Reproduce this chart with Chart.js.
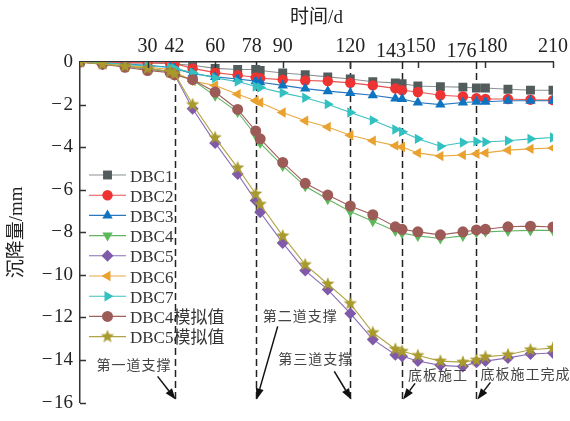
<!DOCTYPE html>
<html>
<head>
<meta charset="utf-8">
<script src="https://cdn.jsdelivr.net/npm/chart.js@4.4.0/dist/chart.umd.min.js"></script>
<style>
html, body { margin: 0; padding: 0; background: #fff; }
</style>
</head>
<body>
<canvas id="myChart" width="570" height="421"></canvas>
<script>
// Data (days, settlement in mm)
const days = [0, 10, 20, 30, 40, 42, 50, 60, 70, 78, 80, 90, 100, 110, 120, 130, 140, 143, 150, 160, 170, 176, 180, 190, 200, 210];

const dbc1 = [0, -0.02, -0.04, -0.05, -0.08, -0.1, -0.15, -0.3, -0.35, -0.35, -0.4, -0.52, -0.6, -0.7, -0.8, -0.93, -0.98, -1.02, -1.13, -1.16, -1.18, -1.22, -1.22, -1.28, -1.32, -1.33];
const dbc2 = [0, 0, -0.03, -0.04, -0.05, -0.07, -0.3, -0.5, -0.62, -0.72, -0.76, -0.83, -0.87, -0.9, -0.98, -1.1, -1.24, -1.33, -1.41, -1.56, -1.62, -1.7, -1.74, -1.74, -1.77, -1.79];
const dbc3 = [0, -0.05, -0.1, -0.15, -0.25, -0.3, -0.55, -0.7, -0.8, -0.9, -0.95, -1.1, -1.25, -1.37, -1.46, -1.56, -1.71, -1.74, -1.9, -2.0, -1.9, -1.87, -1.87, -1.82, -1.82, -1.82];
const dbc4 = [0, -0.1, -0.2, -0.35, -0.45, -0.55, -0.85, -1.59, -2.35, -3.45, -3.81, -4.88, -5.84, -6.45, -7.02, -7.48, -7.94, -8.04, -8.17, -8.29, -8.17, -8.01, -7.98, -7.94, -7.91, -7.91];
const dbc5 = [0, -0.1, -0.2, -0.3, -0.45, -0.6, -2.2, -3.8, -5.26, -6.51, -7.06, -8.5, -9.8, -10.69, -11.81, -13.03, -13.75, -13.82, -14.05, -14.25, -14.31, -14.1, -14.05, -13.9, -13.72, -13.67];
const dbc6 = [0, -0.1, -0.15, -0.25, -0.35, -0.45, -0.9, -1.1, -1.51, -1.82, -1.9, -2.37, -2.76, -3.05, -3.44, -3.7, -3.93, -3.99, -4.27, -4.42, -4.37, -4.31, -4.27, -4.14, -4.08, -4.04];
const dbc7 = [0, -0.05, -0.1, -0.2, -0.25, -0.3, -0.5, -0.75, -0.92, -1.15, -1.2, -1.45, -1.68, -1.98, -2.37, -2.74, -3.17, -3.28, -3.61, -3.96, -3.78, -3.73, -3.76, -3.7, -3.61, -3.55];
const dbc4Sim = [0, -0.1, -0.25, -0.4, -0.5, -0.6, -0.83, -1.41, -2.23, -3.24, -3.61, -4.72, -5.7, -6.25, -6.76, -7.17, -7.74, -7.86, -7.98, -8.12, -7.98, -7.89, -7.86, -7.74, -7.71, -7.75];
const dbc5Sim = [0, -0.1, -0.2, -0.3, -0.45, -0.55, -2.0, -3.55, -4.97, -6.2, -6.68, -8.17, -9.52, -10.43, -11.35, -12.71, -13.49, -13.59, -13.79, -14.05, -14.1, -14.0, -13.85, -13.75, -13.52, -13.44];

const xTickLabels = [30, 42, 60, 78, 90, 120, 143, 150, 176, 180, 210];
const xMajorTicks = [30, 60, 90, 120, 150, 180, 210];
const stageDays = [42, 78, 120, 143, 176];
const stageNames = ['第一道支撑', '第二道支撑', '第三道支撑', '底板施工', '底板施工完成'];

const serif = "'Liberation Serif', 'Noto Sans CJK SC'";
const cjk = "'Noto Sans CJK SC'";

// a filled five-point star for the simulated DBC5 series
function makeStar(color, r) {
    let c = document.createElement('canvas');
    c.width = c.height = Math.ceil(r * 2 + 2);
    let g = c.getContext('2d');
    g.fillStyle = color;
    g.beginPath();
    for (let i = 0; i < 10; i++) {
        let rr = i % 2 === 0 ? r : r * 0.42;
        let a = -Math.PI / 2 + i * Math.PI / 5;
        g.lineTo(c.width / 2 + rr * Math.cos(a), c.height / 2 + rr * Math.sin(a));
    }
    g.closePath();
    g.fill();
    return c;
}

// look of each series
const series = [
    { label: 'DBC1', values: dbc1, marker: '#535c5c', line: '#8c9191', style: 'rect', rot: 0, r: 6.3 },
    { label: 'DBC2', values: dbc2, marker: '#ee3333', line: '#e85050', style: 'circle', rot: 0, r: 5.2 },
    { label: 'DBC3', values: dbc3, marker: '#0f74c0', line: '#2a78bf', style: 'triangle', rot: 0, r: 6 },
    { label: 'DBC4', values: dbc4, marker: '#5cb85c', line: '#62b462', style: 'triangle', rot: 180, r: 6 },
    { label: 'DBC5', values: dbc5, marker: '#7f5aaa', line: '#8a6cb8', style: 'rectRot', rot: 0, r: 6 },
    { label: 'DBC6', values: dbc6, marker: '#e9a22f', line: '#e8a840', style: 'triangle', rot: 270, r: 6 },
    { label: 'DBC7', values: dbc7, marker: '#33c0c0', line: '#3cc0c0', style: 'triangle', rot: 90, r: 6 },
    { label: 'DBC4模拟值', values: dbc4Sim, marker: '#9c5b57', line: '#a0605c', style: 'circle', rot: 0, r: 5.5 },
    { label: 'DBC5模拟值', values: dbc5Sim, marker: '#a89a2c', line: '#b0a444', style: makeStar('#a89a2c', 7), rot: 0, r: 7 }
];

const datasets = series.map(function (s, i) {
    return {
        label: s.label,
        data: days.map(function (d, k) { return { x: d, y: s.values[k] }; }),
        borderColor: s.line,
        backgroundColor: s.marker,
        pointBackgroundColor: s.marker,
        pointBorderColor: s.marker,
        pointBorderWidth: 0,
        pointStyle: s.style,
        pointRotation: s.rot,
        pointRadius: s.r,
        borderWidth: 1.1,
        tension: 0,
        order: series.length - i
    };
});

// where the stage notes sit, relative to the arrow tip at each stage line
const notePlace = [
    { tx: -78, ty: -35, ax: -17, ay: -23 },
    { tx: 7, ty: -84, ax: 22, ay: -73 },
    { tx: -72, ty: -41, ax: -16, ay: -28 },
    { tx: 6, ty: -25, ax: 13, ay: -16 },
    { tx: 4, ty: -26, ax: 14, ay: -17 }
];
const labelShift = { 78: [-4, 0], 143: [-11, 5], 150: [3, 0], 176: [-15, 5], 180: [7, 0] };

function arrow(ctx, x1, y1, x2, y2) {
    let a = Math.atan2(y2 - y1, x2 - x1);
    let L = 11, W = 4;
    let bx = x2 - L * Math.cos(a), by = y2 - L * Math.sin(a);
    ctx.beginPath();
    ctx.moveTo(x1, y1);
    ctx.lineTo(bx, by);
    ctx.stroke();
    ctx.beginPath();
    ctx.moveTo(x2, y2);
    ctx.lineTo(bx + W * Math.sin(a), by - W * Math.cos(a));
    ctx.lineTo(bx - W * Math.sin(a), by + W * Math.cos(a));
    ctx.closePath();
    ctx.fill();
}

const extras = {
    id: 'extras',
    beforeDatasetsDraw(chart) {
        const ctx = chart.ctx, x = chart.scales.x, y = chart.scales.y;
        ctx.save();
        ctx.strokeStyle = '#222';
        ctx.lineWidth = 1.5;
        ctx.setLineDash([7, 4]);
        stageDays.forEach(function (d) {
            let px = Math.round(x.getPixelForValue(d)) + 0.5;
            ctx.beginPath();
            ctx.moveTo(px, y.getPixelForValue(0));
            ctx.lineTo(px, y.getPixelForValue(-16));
            ctx.stroke();
        });
        ctx.restore();
    },
    afterDraw(chart) {
        const ctx = chart.ctx, x = chart.scales.x, y = chart.scales.y;
        const area = chart.chartArea;
        ctx.save();
        // inward tick marks
        ctx.strokeStyle = '#333';
        ctx.lineWidth = 1.5;
        xMajorTicks.forEach(function (d) {
            let px = Math.round(x.getPixelForValue(d)) + 0.5;
            ctx.beginPath();
            ctx.moveTo(px, area.top);
            ctx.lineTo(px, area.top + 6);
            ctx.stroke();
        });
        for (let v = -2; v >= -16; v -= 2) {
            let py = Math.round(y.getPixelForValue(v)) + 0.5;
            ctx.beginPath();
            ctx.moveTo(area.left, py);
            ctx.lineTo(area.left + 6, py);
            ctx.stroke();
        }
        // top axis labels
        ctx.fillStyle = '#222';
        ctx.font = '20px ' + serif;
        ctx.textAlign = 'center';
        ctx.textBaseline = 'middle';
        xTickLabels.forEach(function (d) {
            let s = labelShift[d] || [0, 0];
            ctx.fillText(String(d), x.getPixelForValue(d) + s[0], area.top - 15 + s[1]);
        });
        // stage notes with arrows
        ctx.font = '14px ' + cjk;
        ctx.textAlign = 'left';
        ctx.letterSpacing = '1px';
        ctx.strokeStyle = '#111';
        ctx.lineWidth = 1.5;
        stageDays.forEach(function (d, i) {
            let tipX = x.getPixelForValue(d), tipY = y.getPixelForValue(-15.85);
            let p = notePlace[i];
            ctx.fillStyle = '#444';
            ctx.fillText(stageNames[i], tipX + p.tx, tipY + p.ty);
            ctx.fillStyle = '#111';
            arrow(ctx, tipX + p.ax, tipY + p.ay, tipX + 1, tipY);
        });
        ctx.letterSpacing = '0px';
        // legend
        ctx.font = '17px ' + serif;
        ctx.textBaseline = 'alphabetic';
        series.forEach(function (s, i) {
            let ly = 175 + i * 20.2;
            ctx.strokeStyle = s.line;
            ctx.lineWidth = 1.1;
            ctx.beginPath();
            ctx.moveTo(89, ly);
            ctx.lineTo(126, ly);
            ctx.stroke();
            ctx.fillStyle = s.marker;
            ctx.strokeStyle = s.marker;
            Chart.helpers.drawPoint(ctx, { pointStyle: s.style, rotation: s.rot, radius: s.r, borderWidth: 0 }, 107.5, ly);
            ctx.fillStyle = '#333';
            ctx.fillText(s.label, 130, ly + 6.5);
        });
        ctx.restore();
    }
};

new Chart(document.getElementById('myChart'), {
    type: 'line',
    data: { datasets: datasets },
    options: {
        responsive: false,
        animation: false,
        devicePixelRatio: 1,
        layout: { padding: { left: 0, top: 0, right: 17, bottom: 10 } },
        plugins: { legend: { display: false }, tooltip: { enabled: false } },
        scales: {
            x: {
                type: 'linear',
                position: 'top',
                min: 0,
                max: 210,
                grid: { display: false, drawTicks: false },
                border: { display: true, color: '#333', width: 1.5 },
                ticks: { display: false },
                title: { display: true, text: '时间/d', color: '#222', font: { family: serif, size: 19 }, padding: { top: 7, bottom: 0 } },
                afterFit: function (scale) { scale.height = 62; }
            },
            y: {
                min: -16,
                max: 0,
                grid: { display: false, drawTicks: false },
                border: { display: true, color: '#333', width: 1.5 },
                ticks: {
                    stepSize: 2,
                    padding: 7,
                    color: '#222',
                    font: { family: serif, size: 19 },
                    callback: function (v) { return v < 0 ? '\u2212\u200A' + Math.abs(v) : String(v); }
                },
                title: { display: true, text: '沉降量/mm', color: '#222', font: { family: serif, size: 19 }, padding: { top: 6, bottom: 0 } },
                afterFit: function (scale) { scale.width = 80; }
            }
        }
    },
    plugins: [extras]
});
</script>
</body>
</html>
